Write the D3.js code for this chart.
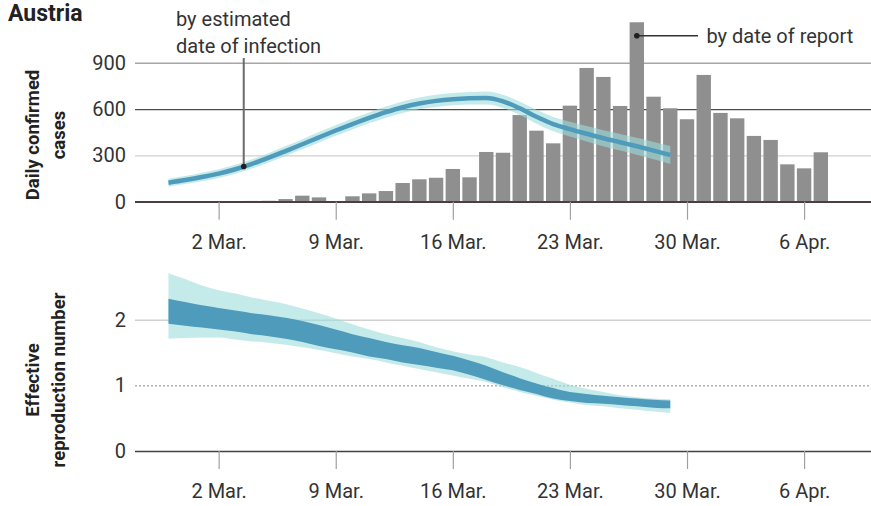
<!DOCTYPE html>
<html>
<head>
<meta charset="utf-8">
<script src="https://cdn.jsdelivr.net/npm/d3@7"></script>
<style>
  html, body { margin: 0; padding: 0; background: #fff; }
  svg { display: block; font-family: Roboto, "Noto Sans", sans-serif; }
</style>
</head>
<body>
<svg id="chart" width="871" height="506"></svg>
<script>
// ---- Data -------------------------------------------------------------
// Daily confirmed cases by date of report, from 29 Feb 2020
const reportStart = "2020-02-29";
const reportCases = [3, 3, 4, 4, 5, 6, 17, 39, 28, 4, 35, 54, 69, 121, 145, 155, 212, 158,
  322, 317, 561, 460, 378, 622, 866, 808, 620, 1162, 680, 605, 534, 821, 575, 540, 426, 400,
  242, 216, 320];

// Estimated infections by date of infection, from 28 Feb 2020 (median and interval)
const infStart = "2020-02-28";
const infMean = [123, 140, 160, 182, 210, 245, 285, 328, 372, 417, 461, 503, 543, 580, 612,
  636, 653, 664, 670, 672, 650, 605, 550, 503, 470, 440, 411, 385, 359, 331, 302];
const infLo = [97, 114, 133, 154, 181, 215, 254, 296, 339, 383, 427, 468, 508, 544, 575,
  598, 614, 624, 629, 630, 607, 561, 505, 457, 422, 390, 359, 331, 304, 275, 244];
const infHi = [149, 166, 187, 210, 239, 275, 316, 360, 405, 451, 495, 538, 578, 616, 649,
  674, 692, 704, 711, 714, 693, 649, 595, 549, 518, 490, 463, 439, 414, 387, 360];

// Effective reproduction number, from 28 Feb 2020
const rStart = "2020-02-28";
const rMean = [2.13, 2.09, 2.05, 2.01, 1.98, 1.94, 1.91, 1.87, 1.82, 1.76, 1.70, 1.64, 1.58,
  1.53, 1.48, 1.44, 1.39, 1.34, 1.27, 1.19, 1.10, 1.02, 0.95, 0.88, 0.83, 0.80, 0.78, 0.76,
  0.74, 0.72, 0.71];
const r50Lo = [1.94, 1.91, 1.88, 1.85, 1.82, 1.78, 1.75, 1.71, 1.66, 1.60, 1.55, 1.50, 1.44,
  1.40, 1.35, 1.31, 1.27, 1.23, 1.16, 1.08, 1.00, 0.93, 0.87, 0.80, 0.76, 0.73, 0.72, 0.70,
  0.68, 0.66, 0.65];
const r50Hi = [2.32, 2.27, 2.22, 2.18, 2.14, 2.10, 2.07, 2.03, 1.98, 1.92, 1.85, 1.78, 1.72,
  1.66, 1.61, 1.57, 1.51, 1.45, 1.38, 1.30, 1.20, 1.11, 1.03, 0.96, 0.90, 0.87, 0.84, 0.82,
  0.80, 0.78, 0.77];
const r95Lo = [1.71, 1.72, 1.73, 1.73, 1.70, 1.67, 1.65, 1.62, 1.58, 1.54, 1.49, 1.44, 1.40,
  1.35, 1.30, 1.25, 1.20, 1.15, 1.10, 1.05, 0.97, 0.90, 0.84, 0.78, 0.74, 0.70, 0.68, 0.65,
  0.63, 0.60, 0.58];
const r95Hi = [2.71, 2.62, 2.52, 2.45, 2.40, 2.34, 2.29, 2.24, 2.17, 2.10, 2.02, 1.93, 1.85,
  1.78, 1.72, 1.66, 1.58, 1.52, 1.47, 1.43, 1.35, 1.28, 1.19, 1.10, 1.01, 0.95, 0.90, 0.85,
  0.82, 0.80, 0.79];

// Axis ticks
const tickDates = ["2020-03-02", "2020-03-09", "2020-03-16", "2020-03-23", "2020-03-30", "2020-04-06"];
const tickLabels = ["2 Mar.", "9 Mar.", "16 Mar.", "23 Mar.", "30 Mar.", "6 Apr."];
const caseTicks = [0, 300, 600, 900];
const rTicks = [0, 1, 2];

// ---- Helpers ----------------------------------------------------------
const parse = d3.timeParse("%Y-%m-%d");
const series = (start, values) => values.map((v, i) => ({ date: d3.timeDay.offset(parse(start), i), v, i }));

const reports = series(reportStart, reportCases);
const inf = series(infStart, infMean).map(d => ({ ...d, lo: infLo[d.i], hi: infHi[d.i] }));
const rt = series(rStart, rMean).map(d => ({
  ...d, lo50: r50Lo[d.i], hi50: r50Hi[d.i], lo95: r95Lo[d.i], hi95: r95Hi[d.i]
}));

const W = 871;
const left = 135;
const svg = d3.select("#chart");

const x = d3.scaleTime()
  .domain([parse("2020-02-26"), parse("2020-04-10")])
  .range([left, W]);
const dayW = x(parse("2020-03-03")) - x(parse("2020-03-02"));
const barW = dayW * 0.86;

const textColor = "#333";
const lightBand = "#9fdcdc";
const darkBlue = "#4e9bbc";
const labelSize = 20;

// ---- Upper panel: daily confirmed cases -------------------------------
const yC = d3.scaleLinear().domain([0, 1200]).range([201.7, 16.4]);
const casesPanel = svg.append("g");

const gridColors = { 0: "#4a3f3f", 300: "#d0d0d0", 600: "#4d4d4d", 900: "#a6a6a6" };

const yAxisC = casesPanel.append("g")
  .attr("transform", `translate(${left},0)`)
  .call(d3.axisLeft(yC).tickValues(caseTicks).tickSize(-(W - left)).tickPadding(9));
yAxisC.select(".domain").remove();
yAxisC.selectAll(".tick line")
  .attr("stroke", d => gridColors[d]).attr("stroke-width", d => d === 0 ? 1.6 : 1.3);
yAxisC.selectAll(".tick text")
  .attr("font-size", labelSize).attr("fill", textColor).attr("font-family", "Roboto");

// bars by date of report
casesPanel.append("g").selectAll("rect").data(reports).join("rect")
  .attr("x", d => x(d.date) - barW / 2)
  .attr("width", barW)
  .attr("y", d => yC(d.v))
  .attr("height", d => yC(0) - yC(d.v))
  .attr("fill", "#8f8f8f");

// baseline re-drawn over the bars
casesPanel.append("line")
  .attr("x1", left).attr("x2", W)
  .attr("y1", yC(0)).attr("y2", yC(0))
  .attr("stroke", gridColors[0]).attr("stroke-width", 1.6);

const xAxisC = casesPanel.append("g")
  .attr("transform", `translate(0,${yC(0)})`)
  .call(d3.axisBottom(x).tickValues(tickDates.map(parse)).tickSize(18).tickPadding(15)
    .tickFormat((d, i) => tickLabels[i]));
xAxisC.select(".domain").remove();
xAxisC.selectAll(".tick line").attr("stroke", "#a0a0a0").attr("stroke-width", 1.2);
xAxisC.selectAll(".tick text").attr("font-size", labelSize).attr("fill", textColor).attr("font-family", "Roboto");

// infections by estimated date of infection
const smooth = d3.curveMonotoneX;
casesPanel.append("path").datum(inf)
  .attr("d", d3.area().x(d => x(d.date)).y0(d => yC(d.lo)).y1(d => yC(d.hi)).curve(smooth))
  .attr("fill", lightBand).attr("fill-opacity", 0.6);
casesPanel.append("path").datum(inf)
  .attr("d", d3.line().x(d => x(d.date)).y(d => yC(d.v)).curve(smooth))
  .attr("fill", "none").attr("stroke", darkBlue).attr("stroke-width", 4.5);

// annotations
const infDotX = (x(inf[4].date) + x(inf[5].date)) / 2;
const infDotY = yC((inf[4].v + inf[5].v) / 2);
casesPanel.append("line")
  .attr("x1", infDotX).attr("x2", infDotX).attr("y1", 58).attr("y2", infDotY)
  .attr("stroke", "#6b6b6b").attr("stroke-width", 2);
casesPanel.append("circle").attr("cx", infDotX).attr("cy", infDotY).attr("r", 2.8).attr("fill", "#1f1f1f");
const infLabel = casesPanel.append("text").attr("x", 176).attr("font-size", labelSize).attr("fill", textColor);
infLabel.append("tspan").attr("x", 176).attr("y", 26).text("by estimated");
infLabel.append("tspan").attr("x", 176).attr("y", 52.5).text("date of infection");

const peak = reports.find(d => d.v === d3.max(reportCases));
const repDotX = x(peak.date);
const repDotY = yC(1075);
casesPanel.append("line")
  .attr("x1", repDotX).attr("x2", 698).attr("y1", repDotY).attr("y2", repDotY)
  .attr("stroke", "#333").attr("stroke-width", 1.5);
casesPanel.append("circle").attr("cx", repDotX).attr("cy", repDotY).attr("r", 2.8).attr("fill", "#1f1f1f");
casesPanel.append("text").attr("x", 706.5).attr("y", 43.3).attr("font-size", labelSize).attr("fill", textColor)
  .text("by date of report");

// ---- Lower panel: effective reproduction number -------------------------
const yR = d3.scaleLinear().domain([0, 2.75]).range([451, 270.5]);
const rtPanel = svg.append("g");

const yAxisR = rtPanel.append("g")
  .attr("transform", `translate(${left},0)`)
  .call(d3.axisLeft(yR).tickValues(rTicks).tickFormat(d3.format("d")).tickSize(-(W - left)).tickPadding(9));
yAxisR.select(".domain").remove();
yAxisR.selectAll(".tick line")
  .attr("stroke", d => d === 0 ? "#4a3f3f" : d === 1 ? "#8a8a8a" : "#d0d0d0")
  .attr("stroke-width", d => d === 0 ? 1.6 : d === 1 ? 1 : 1.3)
  .attr("stroke-dasharray", d => d === 1 ? "2,2" : null);
yAxisR.selectAll(".tick text")
  .attr("font-size", labelSize).attr("fill", textColor).attr("font-family", "Roboto");

rtPanel.append("path").datum(rt)
  .attr("d", d3.area().x(d => x(d.date)).y0(d => yR(d.lo95)).y1(d => yR(d.hi95)).curve(smooth))
  .attr("fill", lightBand).attr("fill-opacity", 0.6);
rtPanel.append("path").datum(rt)
  .attr("d", d3.area().x(d => x(d.date)).y0(d => yR(d.lo50)).y1(d => yR(d.hi50)).curve(smooth))
  .attr("fill", darkBlue);

const xAxisR = rtPanel.append("g")
  .attr("transform", `translate(0,${yR(0)})`)
  .call(d3.axisBottom(x).tickValues(tickDates.map(parse)).tickSize(18).tickPadding(15)
    .tickFormat((d, i) => tickLabels[i]));
xAxisR.select(".domain").remove();
xAxisR.selectAll(".tick line").attr("stroke", "#a0a0a0").attr("stroke-width", 1.2);
xAxisR.selectAll(".tick text").attr("font-size", labelSize).attr("fill", textColor).attr("font-family", "Roboto");

// ---- Titles ------------------------------------------------------------
svg.append("text").attr("x", 8).attr("y", 21)
  .attr("font-size", 23).attr("font-weight", 700).attr("fill", "#222")
  .text("Austria");

function axisTitle(lines, cy) {
  const t = svg.append("text")
    .attr("transform", `translate(0,${cy}) rotate(-90)`)
    .attr("text-anchor", "middle")
    .attr("font-size", 18.5).attr("font-weight", 700).attr("fill", "#222");
  lines.forEach((s, i) => t.append("tspan").attr("x", 0).attr("y", 39 + i * 25.5).text(s));
}
axisTitle(["Daily confirmed", "cases"], 135);
axisTitle(["Effective", "reproduction number"], 380);
</script>
</body>
</html>
